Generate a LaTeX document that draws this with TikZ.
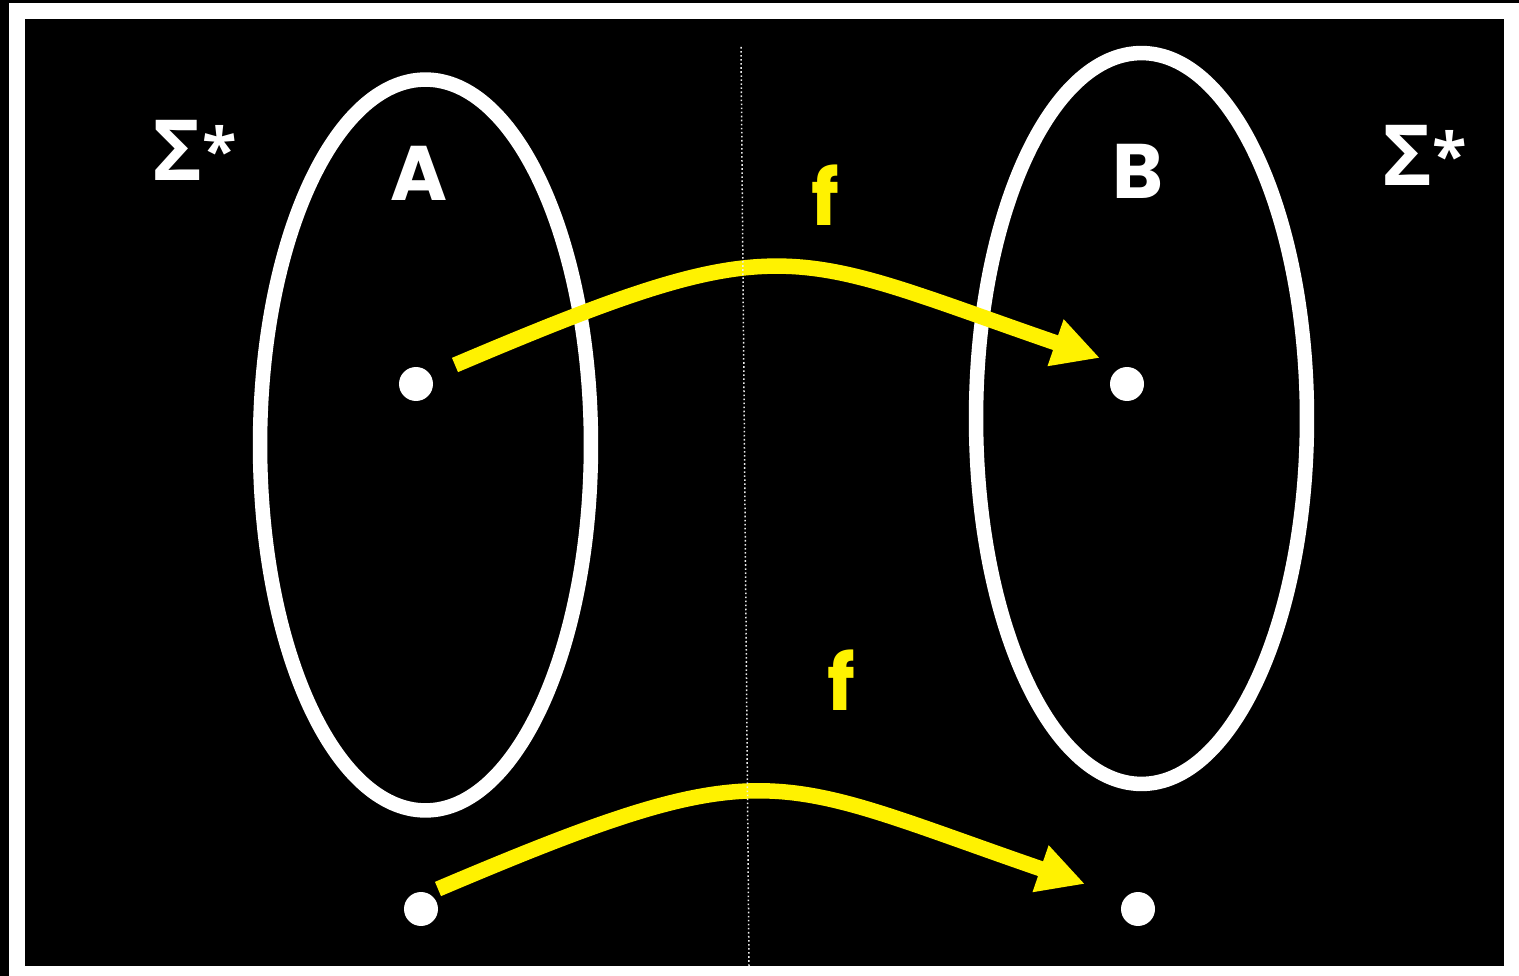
\documentclass[tikz,border=0pt]{standalone}
\usepackage{fontspec}
\newfontfamily\labelfont{Poppins}
\newfontfamily\greekfont{Open Sans}
\usetikzlibrary{shapes.geometric, arrows.meta}

\begin{document}
\begin{tikzpicture}[x=0.02cm, y=-0.02cm,
  setring/.style={draw=white, line width=0.29cm, ellipse, inner sep=0pt, minimum width=6.62cm, minimum height=14.62cm},
  elem/.style={circle, fill=white, inner sep=0pt, minimum size=0.68cm},
  fmap/.style={draw=yellow, line width=0.31cm, -{Triangle[length=0.94cm, width=0.92cm]}, out=23, in=161, out looseness=1.43, in looseness=1.32},
  setname/.style={text=white, font=\labelfont\bfseries\fontsize{44}{44}\selectfont, anchor=base, inner sep=0pt},
  mapname/.style={text=yellow, font=\labelfont\bfseries\fontsize{44}{44}\selectfont, anchor=base, inner sep=0pt},
  univ/.style={text=white, font=\greekfont\bfseries\fontsize{48}{48}\selectfont, anchor=base, inner sep=0pt},
  divider/.style={draw=white!85!gray, line width=0.03cm, dash pattern=on 0.9pt off 1.4pt}
]
  % frame
  \useasboundingbox (0,0) rectangle (1519,976);
  \fill[black] (0,0) rectangle (1519,976);
  \fill[white] (9,3) rectangle (1519,976);
  \fill[black] (25,19) rectangle (1504,966);

  % the two sets
  \node[setring] (setA) at (425.5,445) {};
  \node[setring] (setB) at (1141.5,418.5) {};

  % elements
  \node[elem] (a1) at (416,384) {};
  \node[elem] (b1) at (1127,384) {};
  \node[elem] (a2) at (421,909) {};
  \node[elem] (b2) at (1138,909) {};

  % labels
  \node[univ] (sigmaL) at (194.5,181) {Σ{\fontsize{36}{36}\selectfont\raisebox{4pt}{*}}};
  \node[univ] (sigmaR) at (1424.5,186) {Σ{\fontsize{36}{36}\selectfont\raisebox{4pt}{*}}};
  \node[setname] (labA) at (419,201) {A};
  \node[setname] (labB) at (1138,199) {B};
  \node[mapname] (fTop) at (825,226) {f};
  \node[mapname] (fBot) at (841,710) {f};

  % the map f
  \coordinate (s1) at (455,365);
  \coordinate (e1) at (1100,358);
  \coordinate (s2) at (438,889);
  \coordinate (e2) at (1085,884);
  \draw[fmap] (s1) to (e1);
  \draw[fmap] (s2) to (e2);

  % dividing line
  \coordinate (divTop) at (741,47);
  \coordinate (divBot) at (749,966);
  \draw[divider] (divTop) -- (divBot);
\end{tikzpicture}
\end{document}
